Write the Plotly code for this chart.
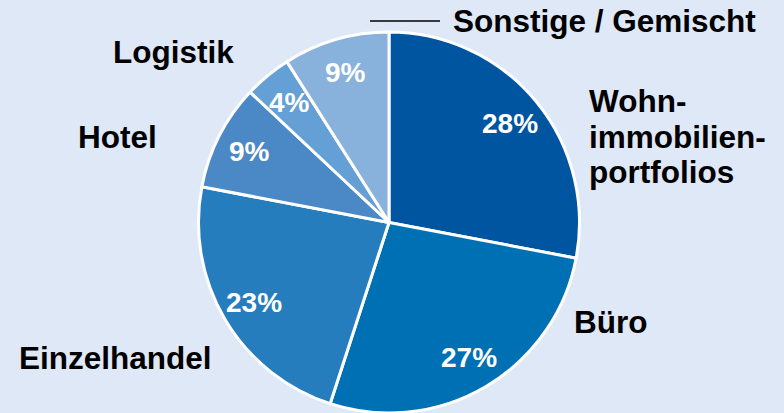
import math
import plotly.graph_objects as go

categories = ["Wohnimmobilienportfolios", "Büro", "Einzelhandel", "Hotel", "Logistik", "Sonstige / Gemischt"]
values = [28, 27, 23, 9, 4, 9]
pct_labels = ["28%", "27%", "23%", "9%", "4%", "9%"]
colors = ["#0055a0", "#0070b4", "#267dbe", "#4a88c6", "#64a0d6", "#88b2dc"]

W, H = 784, 413
BG = "#dfe8f6"
FONT = "Arial, Liberation Sans, sans-serif"

# pie geometry (pixels)
x0, x1 = 198, 580
ytop = 32
R = (x1 - x0) / 2
cx = (x0 + x1) / 2
cy = ytop + R

fig = go.Figure()
fig.add_trace(go.Pie(
    labels=categories,
    values=values,
    sort=False,
    direction="clockwise",
    rotation=0,
    marker=dict(colors=colors, line=dict(color="white", width=3)),
    textinfo="none",
    hoverinfo="label+percent",
    showlegend=False,
    domain=dict(x=[x0 / W, x1 / W], y=[0, (H - ytop) / H]),
))

def px(x, y):
    return x / W, 1 - y / H

annotations = []
# percent labels placed at slice mid-angles
total = sum(values)
cum = 0
for v, t in zip(values, pct_labels):
    mid = (cum + v / 2) / total * 2 * math.pi
    cum += v
    r = 0.82 * R
    x = cx + r * math.sin(mid)
    y = cy - r * math.cos(mid)
    ax, ay = px(x, y)
    annotations.append(dict(x=ax, y=ay, xref="paper", yref="paper", text=t, showarrow=False,
                            font=dict(family=FONT, size=28, color="white", weight="bold"),
                            xanchor="center", yanchor="middle"))

cat_font = dict(family=FONT, size=31.5, color="black", weight="bold")
label_specs = [
    ("Wohn-", 587, 101, "left"),
    ("immobilien-", 587, 137, "left"),
    ("portfolios", 587, 172, "left"),
    ("Büro", 572, 322, "left"),
    ("Einzelhandel", 214, 358, "right"),
    ("Hotel", 159, 137, "right"),
    ("Logistik", 236, 52, "right"),
    ("Sonstige / Gemischt", 451, 21, "left"),
]
for t, x, y, anc in label_specs:
    ax, ay = px(x, y)
    annotations.append(dict(x=ax, y=ay, xref="paper", yref="paper", text=t, showarrow=False,
                            font=cat_font, xanchor=anc, yanchor="middle"))

lx0, ly = px(370, 21)
lx1, _ = px(440, 21)

fig.update_layout(
    width=W, height=H,
    margin=dict(l=0, r=0, t=0, b=0),
    paper_bgcolor=BG, plot_bgcolor=BG,
    annotations=annotations,
    shapes=[dict(type="line", xref="paper", yref="paper", x0=lx0, x1=lx1, y0=ly, y1=ly,
                 line=dict(color="black", width=1.5))],
)

fig.write_html(
    "out.html",
    config={"displayModeBar": False},
    post_script="document.body.style.margin='0';document.body.style.background='" + BG + "';document.body.style.overflow='hidden';",
)
